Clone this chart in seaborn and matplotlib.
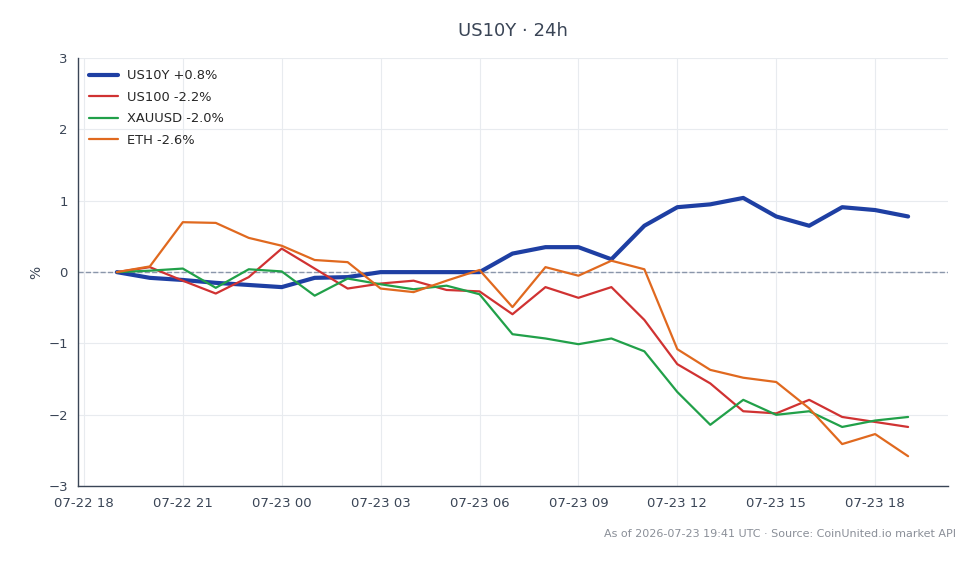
import pandas as pd
import matplotlib.pyplot as plt
import matplotlib.dates as mdates
import seaborn as sns

# Hourly % change since start, 07-22 19:00 -> 07-23 19:00 UTC
hours = pd.date_range("2026-07-22 19:00", "2026-07-23 19:00", freq="h")

us10y = [0.0, -0.08, -0.11, -0.15, -0.18, -0.21, -0.08, -0.07, 0.0, 0.0, 0.0, 0.0,
         0.26, 0.35, 0.35, 0.18, 0.65, 0.91, 0.95, 1.04, 0.78, 0.65, 0.91, 0.87, 0.78]
us100 = [0.0, 0.07, -0.12, -0.30, -0.07, 0.33, 0.05, -0.23, -0.16, -0.12, -0.25, -0.27,
         -0.59, -0.21, -0.36, -0.21, -0.67, -1.29, -1.56, -1.95, -1.98, -1.79, -2.03, -2.10, -2.17]
xauusd = [0.0, 0.02, 0.05, -0.22, 0.04, 0.01, -0.33, -0.09, -0.17, -0.24, -0.19, -0.31,
          -0.87, -0.93, -1.01, -0.93, -1.11, -1.68, -2.14, -1.79, -2.00, -1.95, -2.17, -2.08, -2.03]
eth = [0.0, 0.08, 0.70, 0.69, 0.48, 0.37, 0.17, 0.14, -0.23, -0.28, -0.12, 0.03,
       -0.49, 0.07, -0.05, 0.16, 0.04, -1.08, -1.37, -1.48, -1.54, -1.91, -2.41, -2.27, -2.58]

labels = ["US10Y +0.8%", "US100 -2.2%", "XAUUSD -2.0%", "ETH -2.6%"]
colors = ["#1e3fa3", "#d03232", "#21a049", "#e0691f"]
widths = [3.0, 1.6, 1.6, 1.6]

df = pd.DataFrame({"time": hours, labels[0]: us10y, labels[1]: us100,
                   labels[2]: xauusd, labels[3]: eth})
df_melted = df.melt(id_vars="time", var_name="series", value_name="pct")

sns.set_style("white")
plt.rcParams["font.family"] = ["DejaVu Sans"]

fig, ax = plt.subplots(figsize=(9.8, 5.64), dpi=100)
fig.subplots_adjust(left=0.08, right=0.967, top=0.897, bottom=0.138)

for lab, col, lw in zip(labels, colors, widths):
    sns.lineplot(data=df_melted[df_melted["series"] == lab], x="time", y="pct",
                 color=col, linewidth=lw, label=lab, ax=ax)

# zero reference line, above the grid but under the series
ax.axhline(0, color="#8a96aa", linestyle="--", linewidth=1.0, zorder=1)

ax.set_ylim(-3, 3)
ax.set_yticks([-3, -2, -1, 0, 1, 2, 3])
ax.set_yticklabels(["\u22123", "\u22122", "\u22121", "0", "1", "2", "3"])
ax.set_xlim(pd.Timestamp("2026-07-22 17:50"), pd.Timestamp("2026-07-23 20:12"))
ax.xaxis.set_major_locator(mdates.HourLocator(byhour=range(0, 24, 3)))
ax.xaxis.set_major_formatter(mdates.DateFormatter("%m-%d %H"))

ax.grid(True, color="#e8ebef", linewidth=0.8)
ax.set_axisbelow(True)
for s in ["top", "right"]:
    ax.spines[s].set_visible(False)
for s in ["left", "bottom"]:
    ax.spines[s].set_color("#3a4556")
    ax.spines[s].set_linewidth(1.0)
ax.tick_params(axis="both", direction="out", length=4, color="#3a4556",
               labelcolor="#3a4556", labelsize=9.5)

ax.set_xlabel("")
ax.set_ylabel("%", color="#3a4556", fontsize=10)
ax.set_title("US10Y \u00b7 24h", color="#3a4556", fontsize=13, pad=16)

leg = ax.legend(loc="upper left", frameon=False, fontsize=9.4, handlelength=2.2,
                handletextpad=0.65, borderaxespad=0.45, labelspacing=0.66)

fig.text(0.975, 0.054, "As of 2026-07-23 19:41 UTC \u00b7 Source: CoinUnited.io market API",
         ha="right", va="center", fontsize=8, color="#8a8f98")

plt.savefig("out.png", dpi=100)
